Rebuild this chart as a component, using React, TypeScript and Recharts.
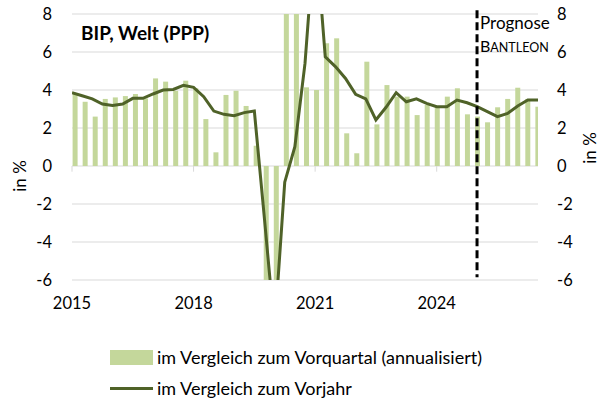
import { ComposedChart, Bar, Line, XAxis, YAxis, CartesianGrid, ReferenceLine, Legend } from 'recharts';

const FONT = 'Lato, "Open Sans", sans-serif';

// quarterly, Q1 2015 .. Q3 2026
const years = ['2015', '2016', '2017', '2018', '2019', '2020', '2021', '2022', '2023', '2024', '2025', '2026'];
const quarters = years.flatMap((y) => ['Q1', 'Q2', 'Q3', 'Q4'].map((q) => `${q} ${y}`)).slice(0, 47);

const qoqAnnualized = [
  3.8, 3.38, 2.6, 3.53, 3.61, 3.68, 3.79, 3.56, 4.61, 4.44,
  3.96, 4.49, 4.09, 2.47, 0.72, 3.74, 3.96, 3.16, 1.07, -9,
  -28, 35, 11, 4.14, 4.0, 6.46, 6.72, 1.72, 0.67, 5.49,
  2.19, 4.26, 3.65, 3.65, 2.68, 3.21, 3.07, 3.65, 4.09, 2.72,
  2.6, 2.3, 3.09, 3.53, 4.12, 3.53, 3.12,
];

const yoy = [
  3.86, 3.7, 3.53, 3.26, 3.19, 3.26, 3.56, 3.56, 3.79, 4.0,
  4.03, 4.25, 4.14, 3.65, 2.89, 2.72, 2.65, 2.81, 2.89, -2.8,
  -8.6, -0.85, 1.02, 5.4, 12.5, 5.75, 5.23, 4.61, 3.77, 3.53,
  2.42, 3.09, 3.86, 3.38, 3.53, 3.3, 3.12, 3.12, 3.47, 3.33,
  3.12, 2.86, 2.6, 2.77, 3.16, 3.47, 3.47,
];

const yearTicks = [0, 12, 24, 36];
const yearLabels = ['2015', '2018', '2021', '2024'];
const yTicks = [-6, -4, -2, 0, 2, 4, 6, 8];
const forecastStart = 40; // Q1 2025

const data = quarters.map((q, i) => ({ i, quarter: q, qoq: qoqAnnualized[i], yoy: yoy[i] }));

const axisTick = { fill: '#000', fontSize: 16.5, fontFamily: FONT };

function renderLegend({ payload }: any) {
  const items = [...(payload ?? [])].sort((a, b) => (a.type === 'line' ? 1 : 0) - (b.type === 'line' ? 1 : 0));
  return (
    <div style={{ position: 'relative', height: 60, fontFamily: FONT }}>
      {items.map((e: any, idx: number) => (
        <div
          key={e.value}
          style={{
            position: 'absolute',
            left: 110,
            top: idx === 0 ? 8 : 39,
            height: 18,
            display: 'flex',
            alignItems: 'center',
            fontSize: 18,
            color: '#000',
            whiteSpace: 'nowrap',
          }}
        >
          {e.type === 'line' ? (
            <span style={{ display: 'inline-block', width: 43, height: 3, background: e.color }} />
          ) : (
            <span style={{ display: 'inline-block', width: 43, height: 15, background: e.color }} />
          )}
          <span style={{ marginLeft: 4 }}>{e.value}</span>
        </div>
      ))}
    </div>
  );
}

export default function App() {
  return (
    <div style={{ position: 'absolute', left: 0, top: 0, fontFamily: FONT }}>
      <ComposedChart width={601} height={400} data={data} margin={{ top: 14, right: 0, bottom: 80, left: 0 }}>
        <CartesianGrid vertical={false} stroke="#d9d9d9" xAxisId="line" yAxisId="left" />
        <XAxis
          xAxisId="line"
          dataKey="i"
          type="number"
          domain={[0, 46]}
          ticks={yearTicks}
          interval={0}
          tickFormatter={(v) => yearLabels[yearTicks.indexOf(v)]}
          axisLine={false}
          tickLine={false}
          tickMargin={11}
          height={40}
          tick={axisTick}
          allowDataOverflow
        />
        <XAxis xAxisId="bar" dataKey="i" type="number" domain={[-0.26, 46.06]} height={0} hide allowDataOverflow />
        <YAxis
          yAxisId="left"
          domain={[-6, 8]}
          ticks={yTicks}
          interval={0}
          allowDataOverflow
          axisLine={false}
          tickLine={false}
          width={72}
          tickMargin={14}
          tick={axisTick}
        />
        <YAxis
          yAxisId="right"
          orientation="right"
          domain={[-6, 8]}
          ticks={yTicks}
          interval={0}
          allowDataOverflow
          axisLine={false}
          tickLine={false}
          width={63}
          tickMargin={13}
          tick={axisTick}
        />
        {yearTicks.map((t) => (
          <ReferenceLine
            key={t}
            xAxisId="line"
            yAxisId="left"
            segment={[{ x: t, y: 0 }, { x: t, y: -0.3 }]}
            stroke="#d9d9d9"
          />
        ))}
        <Bar
          xAxisId="bar"
          yAxisId="left"
          dataKey="qoq"
          name="im Vergleich zum Vorquartal (annualisiert)"
          fill="#c4d79b"
          barSize={5}
          isAnimationActive={false}
        />
        <Line
          xAxisId="line"
          yAxisId="left"
          type="linear"
          dataKey="yoy"
          name="im Vergleich zum Vorjahr"
          stroke="#4f6228"
          strokeWidth={3}
          dot={false}
          isAnimationActive={false}
        />
        <ReferenceLine
          xAxisId="bar"
          yAxisId="left"
          segment={[{ x: forecastStart, y: 8.2 }, { x: forecastStart, y: -5.85 }]}
          stroke="#000"
          strokeWidth={3}
          strokeDasharray="8 4"
          ifOverflow="visible"
        />
        <Legend
          layout="vertical"
          align="center"
          verticalAlign="middle"
          wrapperStyle={{ left: 0, top: 340, width: 601, height: 60 }}
          content={renderLegend}
        />
        <text x={81} y={40} fontSize={19} fontWeight="bold" fontFamily={FONT} fill="#000">
          BIP, Welt (PPP)
        </text>
        <text x={480} y={29} fontSize={17} fontFamily={FONT} fill="#000">
          Prognose
        </text>
        <text x={480} y={52} fontSize={16} fontFamily={FONT} fill="#000">
          B<tspan fontSize={12.5}>ANTLEON</tspan>
        </text>
        <text x={19} y={176} fontSize={17} fontFamily={FONT} fill="#000" textAnchor="middle" dominantBaseline="central" transform="rotate(-90 19 176)">
          in %
        </text>
        <text x={589} y={148} fontSize={17} fontFamily={FONT} fill="#000" textAnchor="middle" dominantBaseline="central" transform="rotate(-90 589 148)">
          in %
        </text>
      </ComposedChart>
    </div>
  );
}
